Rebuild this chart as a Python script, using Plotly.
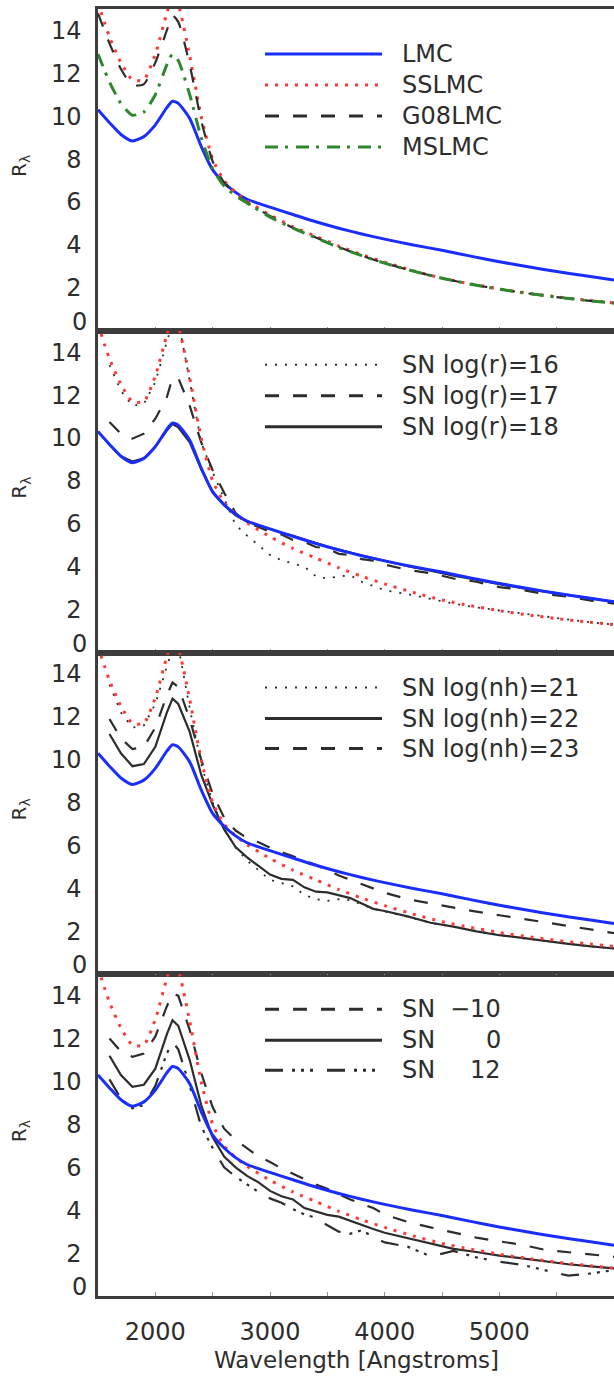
import plotly.graph_objects as go

# ---------------- data ----------------
WL = [1500, 1600, 1700, 1800, 1900, 2000, 2100, 2150, 2200, 2300, 2400, 2500, 2600, 2700,
      2800, 3000, 3200, 3400, 3600, 3800, 4000, 4250, 4500, 4750, 5000, 5250, 5500, 5750, 6000]
LMC = [10.3, 9.7, 9.15, 8.85, 9.05, 9.6, 10.4, 10.7, 10.6, 9.9, 8.6, 7.5, 6.9, 6.45,
       6.13, 5.76, 5.42, 5.08, 4.78, 4.51, 4.27, 4.0, 3.75, 3.48, 3.22, 2.98, 2.76, 2.56, 2.37]
SSLMC = [15.3, 13.7, 12.5, 11.7, 11.7, 12.9, 14.8, 15.6, 15.2, 12.8, 10.0, 8.0, 7.0, 6.45,
         6.05, 5.4, 4.85, 4.4, 3.95, 3.55, 3.2, 2.8, 2.45, 2.18, 1.95, 1.75, 1.58, 1.43, 1.3]
G08LMC = [14.8, 13.4, 12.2, 11.45, 11.5, 12.5, 14.0, 14.7, 14.4, 12.4, 9.8, 7.9, 6.9, 6.35,
          5.98, 5.35, 4.8, 4.35, 3.9, 3.5, 3.15, 2.78, 2.45, 2.17, 1.94, 1.74, 1.57, 1.42, 1.29]
MSLMC = [12.9, 11.6, 10.6, 10.05, 10.2, 11.0, 12.4, 12.9, 12.6, 11.0, 9.0, 7.55, 6.75, 6.3,
         5.95, 5.3, 4.78, 4.33, 3.88, 3.5, 3.15, 2.78, 2.45, 2.17, 1.94, 1.74, 1.57, 1.42, 1.29]

WL_SN = [1600, 1700, 1800, 1900, 2000, 2100, 2150, 2200, 2300, 2400, 2500, 2600, 2700, 2800,
         2900, 3000, 3100, 3200, 3300, 3400, 3500, 3600, 3700, 3800, 3900, 4000, 4200, 4400,
         4600, 4800, 5000, 5200, 5400, 5600, 5800, 6000]

# panel 2 : radius
SN_LOGR16 = [13.4, 12.2, 11.5, 11.6, 12.6, 14.4, 15.4, 15.5, 12.6, 9.8, 8.4, 7.2, 5.95, 5.45,
             5.0, 4.55, 4.3, 4.15, 4.0, 3.55, 3.45, 3.55, 3.6, 3.3, 3.1, 2.9, 2.72, 2.5,
             2.28, 2.1, 1.96, 1.8, 1.66, 1.53, 1.4, 1.3]
SN_LOGR17 = [10.75, 10.2, 9.97, 10.2, 10.9, 11.9, 12.8, 12.8, 11.5, 9.8, 8.5, 7.45, 6.5, 6.05,
             5.85, 5.62, 5.5, 5.25, 5.15, 4.92, 4.85, 4.6, 4.55, 4.35, 4.28, 4.1, 3.85, 3.7,
             3.45, 3.3, 3.05, 2.92, 2.72, 2.6, 2.42, 2.28]
SN_LOGR18 = [9.7, 9.15, 8.9, 9.05, 9.6, 10.35, 10.65, 10.5, 9.8, 8.55, 7.45, 6.85, 6.4, 6.1,
             5.92, 5.74, 5.58, 5.44, 5.26, 5.1, 4.94, 4.8, 4.64, 4.52, 4.4, 4.28, 4.02, 3.82,
             3.58, 3.4, 3.18, 3.0, 2.84, 2.67, 2.52, 2.36]

# panel 3 : density
SN_LOGNH21 = [13.5, 12.2, 11.5, 11.6, 12.6, 14.3, 15.2, 15.3, 12.4, 9.8, 8.0, 6.8, 5.9, 5.3,
              4.85, 4.4, 4.25, 4.1, 3.7, 3.5, 3.42, 3.5, 3.45, 3.25, 3.05, 2.92, 2.68, 2.4,
              2.2, 2.0, 1.83, 1.68, 1.55, 1.42, 1.3, 1.2]
SN_LOGNH22 = [11.2, 10.3, 9.7, 9.8, 10.6, 12.2, 12.85, 12.6, 11.3, 9.3, 7.9, 6.75, 5.93, 5.45,
              5.05, 4.65, 4.45, 4.4, 4.05, 3.85, 3.82, 3.7, 3.55, 3.3, 3.05, 2.95, 2.7, 2.4,
              2.22, 2.0, 1.82, 1.7, 1.55, 1.42, 1.3, 1.2]
SN_LOGNH23 = [11.9, 11.0, 10.5, 10.6, 11.5, 13.0, 13.6, 13.4, 11.9, 10.0, 8.4, 7.3, 6.7, 6.35,
              6.15, 5.9, 5.7, 5.5, 5.3, 5.1, 4.85, 4.6, 4.4, 4.2, 4.0, 3.8, 3.5, 3.3,
              3.1, 2.92, 2.75, 2.6, 2.42, 2.25, 2.08, 1.92]

# panel 4 : epoch
SN_M10 = [12.0, 11.4, 11.15, 11.3, 12.1, 13.5, 14.1, 14.0, 12.4, 10.4, 8.8, 7.8, 7.27, 6.9,
          6.5, 6.25, 5.95, 5.7, 5.45, 5.2, 5.0, 4.75, 4.5, 4.3, 4.1, 3.8, 3.45, 3.2,
          2.95, 2.72, 2.55, 2.38, 2.15, 2.05, 1.95, 1.83]
SN_0 = [11.2, 10.3, 9.75, 9.85, 10.6, 12.2, 12.86, 12.6, 11.0, 8.9, 7.4, 6.5, 6.0, 5.6,
        5.3, 4.9, 4.65, 4.5, 4.1, 3.95, 3.78, 3.7, 3.5, 3.3, 3.12, 2.95, 2.7, 2.45,
        2.2, 2.05, 1.88, 1.75, 1.6, 1.48, 1.38, 1.29]
SN_12 = [10.1, 9.2, 8.75, 8.9, 9.8, 11.3, 11.85, 11.5, 9.8, 7.9, 6.9, 6.0, 5.56, 5.2,
         4.85, 4.55, 4.35, 4.05, 3.8, 3.65, 3.3, 3.0, 2.9, 3.07, 2.75, 2.5, 2.3, 1.85,
         2.1, 1.8, 1.6, 1.45, 1.2, 0.95, 1.05, 1.21]

X_TICKS = [2000, 3000, 4000, 5000]
X_TICK_TEXT = ["2000", "3000", "4000", "5000"]
Y_TICKS = [2, 4, 6, 8, 10, 12, 14]
Y_TICK_TEXT = ["2", "4", "6", "8", "10", "12", "14"]

# ---------------- styles ----------------
FONT = "DejaVu Sans"
BLUE = "rgb(25,45,255)"
RED = "rgb(255,55,55)"
GREEN = "rgb(45,135,45)"
DARK = "rgb(45,45,45)"
AXC = "rgb(60,60,60)"

ST = {
    "LMC": dict(color=BLUE, width=3, dash="solid"),
    "SSLMC": dict(color=RED, width=3, dash="3px,7px"),
    "G08LMC": dict(color=DARK, width=2.2, dash="14px,14px"),
    "MSLMC": dict(color=GREEN, width=3, dash="13px,7px,3px,8px"),
    "dotted": dict(color=DARK, width=1.8, dash="2px,8px"),
    "dashed": dict(color=DARK, width=2.2, dash="14px,14px"),
    "solid": dict(color=DARK, width=2.2, dash="solid"),
    "dashdotdot": dict(color=DARK, width=2.2, dash="18px,9px,3px,6px,3px,6px,3px,14px"),
}

W, H = 614, 1377
ML, MR, MT, MB = 98, 0, 9, 81
PW, PH = W - ML - MR, H - MT - MB

def px_x(px):
    return (px - ML) / PW

def px_y(py):
    return (H - MB - py) / PH

panels = [
    dict(traces=[(WL, LMC, "LMC", "spline"), (WL, SSLMC, "SSLMC", "spline"),
                 (WL, G08LMC, "G08LMC", "spline"), (WL, MSLMC, "MSLMC", "spline")],
         legend=[("LMC", None, "LMC"), ("SSLMC", None, "SSLMC"),
                 ("G08LMC", None, "G08LMC"), ("MSLMC", None, "MSLMC")],
         leg_off=[45, 76, 107, 138]),
    dict(traces=[(WL_SN, SN_LOGR16, "dotted", "linear"), (WL_SN, SN_LOGR17, "dashed", "linear"),
                 (WL_SN, SN_LOGR18, "solid", "linear"), (WL, SSLMC, "SSLMC", "spline"),
                 (WL, LMC, "LMC", "spline")],
         legend=[("SN log(r)=16", None, "dotted"), ("SN log(r)=17", None, "dashed"),
                 ("SN log(r)=18", None, "solid")],
         leg_off=[34, 65, 96]),
    dict(traces=[(WL_SN, SN_LOGNH21, "dotted", "linear"), (WL_SN, SN_LOGNH22, "solid", "linear"),
                 (WL_SN, SN_LOGNH23, "dashed", "linear"), (WL, SSLMC, "SSLMC", "spline"),
                 (WL, LMC, "LMC", "spline")],
         legend=[("SN log(nh)=21", None, "dotted"), ("SN log(nh)=22", None, "solid"),
                 ("SN log(nh)=23", None, "dashed")],
         leg_off=[35, 66, 96]),
    dict(traces=[(WL_SN, SN_M10, "dashed", "linear"), (WL_SN, SN_0, "solid", "linear"),
                 (WL_SN, SN_12, "dashdotdot", "linear"), (WL, SSLMC, "SSLMC", "spline"),
                 (WL, LMC, "LMC", "spline")],
         legend=[("SN", "\u221210", "dashed"), ("SN", "0", "solid"), ("SN", "12", "dashdotdot")],
         leg_off=[35, 66, 96]),
]

fig = go.Figure()
shapes, annotations = [], []
layout = {}
n = len(panels)
panel_h = PH / n

for i, p in enumerate(panels):
    k = i + 1
    xa = "x" if k == 1 else f"x{k}"
    ya = "y" if k == 1 else f"y{k}"
    for (xs, ys, st, shape) in p["traces"]:
        s = ST[st]
        fig.add_trace(go.Scatter(
            x=xs, y=ys, mode="lines", xaxis=xa, yaxis=ya, showlegend=False,
            line=dict(color=s["color"], width=s["width"], dash=s["dash"], shape=shape,
                      smoothing=0.6 if shape == "spline" else None),
            hoverinfo="skip"))
    top = 1 - i / n
    bot = 1 - (i + 1) / n
    last = (k == n)
    layout["xaxis" if k == 1 else f"xaxis{k}"] = dict(
        domain=[0, 1], anchor=ya, range=[1500, 6000],
        showline=True, linecolor=AXC, linewidth=2.5, mirror=True,
        showgrid=False, zeroline=False,
        ticks="inside", ticklen=4, tickwidth=1, tickcolor="rgb(150,150,150)",
        minor=dict(ticks="inside", dtick=500, tick0=1500, ticklen=4, tickwidth=1,
                   tickcolor="rgb(150,150,150)", showgrid=False),
        tickmode="array", tickvals=X_TICKS, ticktext=X_TICK_TEXT,
        showticklabels=last, ticklabelstandoff=12,
        tickfont=dict(family=FONT, size=24, color=DARK),
        **({} if k == 1 else {"matches": "x"}))
    layout["yaxis" if k == 1 else f"yaxis{k}"] = dict(
        domain=[bot, top], anchor=xa, range=[0, 15],
        showline=True, linecolor=AXC, linewidth=2.5, mirror=False,
        showgrid=False, zeroline=False, ticks="",
        tickmode="array", tickvals=Y_TICKS, ticktext=Y_TICK_TEXT,
        ticklabelstandoff=9,
        tickfont=dict(family=FONT, size=24, color=DARK))
    # shifted "0" label
    annotations.append(dict(xref="paper", yref=ya, x=0, y=0, text="0", showarrow=False,
                            xanchor="right", yanchor="middle", xshift=-9, yshift=9,
                            font=dict(family=FONT, size=24, color=DARK)))
    # y title
    annotations.append(dict(xref="paper", yref="paper", x=0, y=(top + bot) / 2,
                            text="R<sub>\u03bb</sub>", showarrow=False, textangle=-90,
                            xanchor="center", yanchor="middle", xshift=-78, yshift=4,
                            font=dict(family=FONT, size=20, color=DARK)))
    # legend
    ptop_px = MT + i * panel_h
    for (label, num, st), off in zip(p["legend"], p["leg_off"]):
        s = ST[st]
        yy = px_y(ptop_px + off)
        shapes.append(dict(type="line", xref="paper", yref="paper",
                           x0=px_x(265), x1=px_x(382), y0=yy, y1=yy,
                           line=dict(color=s["color"], width=3 if st != "dotted" else 2,
                                     dash=s["dash"])))
        annotations.append(dict(xref="paper", yref="paper", x=px_x(400), y=yy, text=label,
                                showarrow=False, xanchor="left", yanchor="middle",
                                font=dict(family=FONT, size=24, color=DARK)))
        if num is not None:
            annotations.append(dict(xref="paper", yref="paper", x=px_x(503), y=yy, text=num,
                                    showarrow=False, xanchor="right", yanchor="middle",
                                    font=dict(family=FONT, size=24, color=DARK)))

annotations.append(dict(xref="paper", yref="paper", x=px_x(356), y=px_y(1360),
                        text="Wavelength [Angstroms]", showarrow=False,
                        xanchor="center", yanchor="middle",
                        font=dict(family=FONT, size=23, color=DARK)))

fig.update_layout(
    width=W, height=H, margin=dict(l=ML, r=MR, t=MT, b=MB),
    paper_bgcolor="white", plot_bgcolor="white", showlegend=False,
    shapes=shapes, annotations=annotations, **layout)

fig.write_html("out.html")
